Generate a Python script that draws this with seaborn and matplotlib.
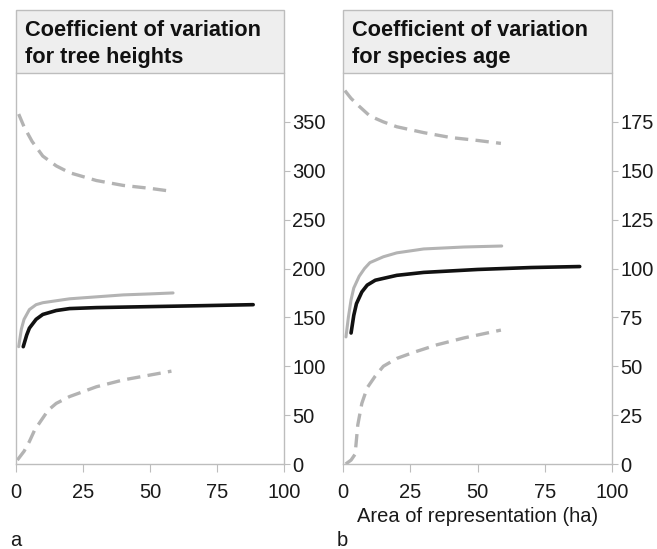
import matplotlib
matplotlib.use("Agg")
import matplotlib.pyplot as plt
from matplotlib.patches import Rectangle
import seaborn as sns
import pandas as pd

sns.set_style("white")
plt.rcParams['font.family'] = ['Liberation Sans', 'DejaVu Sans']

# ---- Panel a: tree heights ----
a_upper_x = [1, 3, 6, 10, 15, 20, 30, 40, 50, 58]
a_upper_y = [358, 345, 330, 315, 305, 298, 290, 285, 282, 279]
a_grey_x = [1, 2, 3, 5, 7.5, 10, 15, 20, 30, 40, 50, 58.6]
a_grey_y = [120, 138, 148, 158, 163, 165, 167, 169, 171, 173, 174, 175]
a_black_x = [2.7, 4, 5, 7.5, 10, 15, 20, 30, 50, 70, 88.5]
a_black_y = [120, 132, 139, 148, 153, 157, 159, 160, 161, 162, 163]
a_lower_x = [0.5, 3, 5, 7, 10, 12, 15, 20, 30, 40, 50, 58]
a_lower_y = [4, 13, 23, 35, 47, 55, 62, 69, 79, 86, 91, 95]

# ---- Panel b: species age ----
b_upper_x = [0.7, 3, 6, 10, 15, 20, 30, 40, 50, 58.7]
b_upper_y = [191, 187, 183, 178, 175, 172.5, 169.5, 167, 165.5, 164]
b_grey_x = [1.1, 2, 3, 4, 6, 8, 10, 15, 20, 30, 45, 59]
b_grey_y = [65, 75, 84, 90, 96, 100, 103, 106, 108, 110, 111, 111.5]
b_black_x = [3, 4, 5, 7, 9, 12, 20, 30, 50, 70, 88]
b_black_y = [67, 76, 82, 88, 91.5, 94, 96.5, 98, 99.5, 100.5, 101]
b_lower_x = [1, 3, 4.5, 5.5, 7, 9, 12, 15, 20, 26, 35, 45, 58.7]
b_lower_y = [0, 2, 5, 20, 31, 39, 45, 50, 54, 57, 61, 64.5, 68.5]

titles = ["Coefficient of variation\nfor tree heights",
          "Coefficient of variation\nfor species age"]
yticks_a = [0, 50, 100, 150, 200, 250, 300, 350]
yticks_b = [0, 25, 50, 75, 100, 125, 150, 175]
xticks = [0, 25, 50, 75, 100]
panel_letters = ["a", "b"]
xlabel = "Area of representation (ha)"

W, H = 657, 549
fig = plt.figure(figsize=(W / 100, H / 100), dpi=100)

GREY = "#b3b3b3"
BLACK = "#111111"
SPINE = "#bdbdbd"

panels = [
    dict(left=16, right=284, ymax=400, yticks=yticks_a,
         series=[(a_upper_x, a_upper_y, "dash"), (a_grey_x, a_grey_y, "grey"),
                 (a_black_x, a_black_y, "black"), (a_lower_x, a_lower_y, "dash")]),
    dict(left=343, right=612, ymax=200, yticks=yticks_b,
         series=[(b_upper_x, b_upper_y, "dash"), (b_grey_x, b_grey_y, "grey"),
                 (b_black_x, b_black_y, "black"), (b_lower_x, b_lower_y, "dash")]),
]

top_px, bot_px, box_top = 73, 464, 10
for i, p in enumerate(panels):
    ax = fig.add_axes([p["left"] / W, 1 - bot_px / H,
                       (p["right"] - p["left"]) / W, (bot_px - top_px) / H])
    for xs, ys, kind in p["series"]:
        df = pd.DataFrame({"x": xs, "y": ys})
        if kind == "dash":
            sns.lineplot(data=df, x="x", y="y", ax=ax, color=GREY, lw=2.4,
                         linestyle=(0, (4, 2.2)))
        elif kind == "grey":
            sns.lineplot(data=df, x="x", y="y", ax=ax, color=GREY, lw=2.2)
        else:
            sns.lineplot(data=df, x="x", y="y", ax=ax, color=BLACK, lw=2.6,
                         zorder=3)
    ax.set_xlim(0, 100)
    ax.set_ylim(0, p["ymax"])
    ax.set_xticks(xticks)
    ax.set_yticks(p["yticks"])
    ax.yaxis.tick_right()
    ax.tick_params(axis="y", which="both", direction="out", length=4,
                   color=SPINE, labelsize=14.5, labelcolor="#1a1a1a", pad=2,
                   right=True, left=False)
    ax.tick_params(axis="x", direction="out", length=6, color=SPINE,
                   labelsize=14.5, labelcolor="#1a1a1a", pad=8, bottom=True)
    for s in ["left", "right", "bottom"]:
        ax.spines[s].set_visible(True)
        ax.spines[s].set_color(SPINE)
        ax.spines[s].set_linewidth(1.0)
    ax.spines["top"].set_visible(False)
    ax.set_xlabel("")
    ax.set_ylabel("")
    ax.grid(False)

    # title box
    fig.patches.append(Rectangle((p["left"] / W, 1 - top_px / H),
                                 (p["right"] - p["left"]) / W,
                                 (top_px - box_top) / H,
                                 transform=fig.transFigure,
                                 facecolor="#eeeeee", edgecolor=SPINE,
                                 lw=1.0, zorder=0))
    fig.text((p["left"] + 9) / W, 1 - (box_top + 34) / H, titles[i],
             ha="left", va="center", fontsize=15.7, fontweight="bold",
             color="#111111", linespacing=1.35)
    fig.text((p["left"] - 6) / W, 1 - 541 / H, panel_letters[i],
             ha="left", va="center", fontsize=14.5, color="#1a1a1a")

fig.text((343 + 612) / 2 / W, 1 - 517 / H, xlabel, ha="center", va="center",
         fontsize=14.5, color="#1a1a1a")

fig.savefig("out.png", dpi=100)
